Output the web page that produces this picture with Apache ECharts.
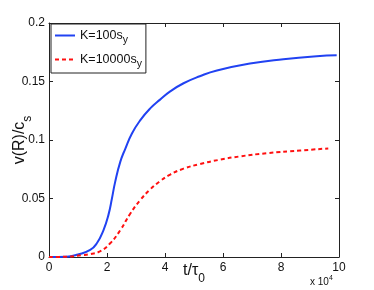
<!DOCTYPE html>
<html><head><meta charset="utf-8">
<script src="https://cdn.jsdelivr.net/npm/echarts@6/dist/echarts.min.js"></script>
<style>html,body{margin:0;padding:0;background:#fff}#c{width:374px;height:290px}</style>
</head><body><div id="c"></div>
<script>
var seriesNames = ['K=100s_y', 'K=10000s_y'];
var blueT = [0, 0.6, 1.0, 1.42, 1.65, 1.88, 2.05, 2.17, 2.28, 2.46, 2.63, 2.86, 3.15, 3.49, 3.83, 4.18, 4.64, 5.2, 5.79, 6.93, 8.08, 9.23, 9.92];
var blueV = [0, 0.0003, 0.0022, 0.006, 0.0117, 0.023, 0.036, 0.050, 0.064, 0.0815, 0.0925, 0.1056, 0.117, 0.127, 0.1345, 0.1415, 0.1485, 0.1545, 0.1594, 0.1653, 0.169, 0.1716, 0.1724];
var redT = [0, 0.6, 1.12, 1.42, 1.77, 2.11, 2.46, 2.80, 3.15, 3.49, 3.83, 4.18, 4.64, 5.21, 5.9, 6.59, 7.5, 8.66, 9.63];
var redV = [0, 0.0002, 0.0015, 0.0025, 0.005, 0.0117, 0.023, 0.037, 0.0487, 0.0578, 0.0648, 0.0705, 0.0755, 0.0795, 0.0832, 0.086, 0.0887, 0.091, 0.0928];
var xTicks = [0, 2, 4, 6, 8, 10];
var yTicks = [0, 0.05, 0.1, 0.15, 0.2];

function zip(a, b) { return a.map(function (v, i) { return [v, b[i]]; }); }
var FONT = 'Liberation Sans, Arial, sans-serif';
var chart = echarts.init(document.getElementById('c'), null, {renderer: 'canvas'});
var axisLine = {show: true, onZero: false, lineStyle: {color: '#222', width: 1}};
var tick = {show: true, inside: true, length: 4, lineStyle: {color: '#222'}};
chart.setOption({
  animation: false,
  textStyle: {fontFamily: FONT},
  grid: {left: 49, right: 35, top: 23, bottom: 33, containLabel: false, outerBoundsMode: 'none'},
  legend: {
    left: 51, top: 24, orient: 'vertical', itemWidth: 20, itemHeight: 10, itemGap: 7,
    padding: [5, 4, 3, 3], borderColor: '#222', borderWidth: 1, backgroundColor: '#fff',
    data: seriesNames,
    itemStyle: {opacity: 0},
    formatter: function (n) { var p = n.split('_'); return '{a|' + p[0] + '}{s|' + p[1] + '}'; },
    textStyle: {rich: {a: {fontSize: 12.5, fontFamily: FONT, color: '#111'}, s: {fontSize: 10.5, fontFamily: FONT, color: '#111', verticalAlign: 'bottom', padding: [10, 0, 0, 0]}}}
  },
  xAxis: [{
    type: 'value', min: 0, max: 10, interval: 2,
    axisLine: axisLine, axisTick: tick, splitLine: {show: false},
    axisLabel: {fontSize: 12, color: '#111', margin: 5, fontFamily: FONT},
    name: '{a|t/τ}{s|0}', nameLocation: 'middle', nameGap: 6, nameMoveOverlap: false,
    nameTextStyle: {verticalAlign: 'top', rich: {a: {fontSize: 16, fontFamily: FONT, color: '#111', lineHeight: 16, verticalAlign: 'top'}, s: {fontSize: 12, fontFamily: FONT, color: '#111', lineHeight: 12, verticalAlign: 'top', padding: [10, 0, 0, 0]}}}
  }, {
    type: 'value', position: 'top', min: 0, max: 10, interval: 2,
    axisLine: axisLine, axisTick: tick, axisLabel: {show: false}, splitLine: {show: false}
  }],
  yAxis: [{
    type: 'value', min: 0, max: 0.2, interval: 0.05,
    axisLine: axisLine, axisTick: tick, splitLine: {show: false},
    axisLabel: {fontSize: 12, color: '#111', margin: 4, fontFamily: FONT, formatter: function (v) { return String(+v.toFixed(2)); }},
    name: '{a|v(R)/c}{s|s}', nameLocation: 'middle', nameGap: 21, nameRotate: 90, nameMoveOverlap: false,
    nameTextStyle: {verticalAlign: 'bottom', rich: {a: {fontSize: 16, fontFamily: FONT, color: '#111', lineHeight: 16, verticalAlign: 'top'}, s: {fontSize: 12, fontFamily: FONT, color: '#111', lineHeight: 12, verticalAlign: 'top', padding: [10, 0, 0, 0]}}}
  }, {
    type: 'value', position: 'right', min: 0, max: 0.2, interval: 0.05,
    axisLine: axisLine, axisTick: tick, axisLabel: {show: false}, splitLine: {show: false}
  }],
  graphic: [{
    type: 'text', left: 310, top: 275,
    style: {text: '{a|x 10}{p|4}', rich: {a: {fontSize: 10, fontFamily: FONT, fill: '#111'}, p: {fontSize: 7, fontFamily: FONT, fill: '#111', verticalAlign: 'top', padding: [0, 0, 8, 0]}}}
  }],
  series: [{
    name: seriesNames[0], type: 'line', smooth: 0.5, showSymbol: false, symbol: 'none', symbolSize: 0,
    data: zip(blueT, blueV), lineStyle: {color: '#2142f2', width: 2}, itemStyle: {color: '#2142f2'}
  }, {
    name: seriesNames[1], type: 'line', smooth: 0.5, showSymbol: false, symbol: 'none', symbolSize: 0,
    data: zip(redT, redV), lineStyle: {color: '#ff1010', width: 2, type: [4, 3]}, itemStyle: {color: '#ff1010'}
  }]
});
</script></body></html>
